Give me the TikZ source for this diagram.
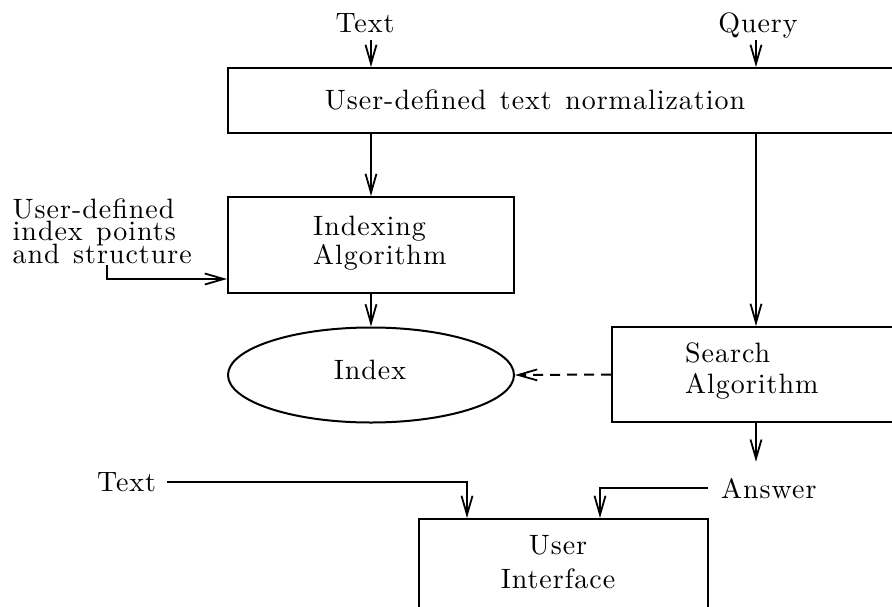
\documentclass[tikz,border=0pt]{standalone}
\usepackage{fontspec}
\setmainfont{lmroman10-regular}[Extension=.otf, LetterSpace=3.5, WordSpace=1.3]
\usetikzlibrary{arrows.meta,shapes.geometric}
\lineskiplimit=-40pt
\begin{document}
\begin{tikzpicture}[x=1pt,y=-1pt,
  every node/.style={font=\fontsize{28}{29}\selectfont, inner sep=0pt},
  box/.style={draw, line width=2pt, rectangle},
  oval/.style={draw, line width=2pt, ellipse},
  lbl/.style={inner sep=0pt},
  arr/.style={line width=2pt, -{Straight Barb[length=19pt,width=11pt,line width=1.8pt]}},
  dasharr/.style={arr, dash pattern=on 10pt off 7pt}]
\path[use as bounding box, clip] (0,0) rectangle (892,606);
\fill[white] (0,0) rectangle (892,606);

% boxes
\node[box, minimum width=672pt, minimum height=65pt] (norm) at (564,100.5) {};
\node[box, minimum width=286pt, minimum height=96pt] (idx) at (371,245) {};
\node[oval, minimum width=286pt, minimum height=95pt] (index) at (371,375) {};
\node[box, minimum width=288pt, minimum height=95pt] (search) at (756,374.5) {};
\node[box, minimum width=289pt, minimum height=96pt] (ui) at (563.5,567) {};

% texts
\node[lbl, anchor=base] (t1) at (365,32) {Text};
\node[lbl, anchor=base] (q) at (758,32) {Query};
\node[lbl, anchor=base] (normtxt) at (535,109) {User-defined text normalization};
\node[lbl, anchor=west, align=left, font=\fontsize{28}{29}\selectfont] (idxtxt) at (313,243) {Indexing\\Algorithm};
\node[lbl, anchor=base] (indextxt) at (370,379) {Index};
\node[lbl, anchor=west, align=left, font=\fontsize{28}{31}\selectfont] (searchtxt) at (685,371) {Search\\Algorithm};
\node[lbl, anchor=center, align=center, font=\fontsize{28}{34}\selectfont] (uitxt) at (558,562) {User\\Interface};
\node[lbl, anchor=west, align=left, font=\fontsize{28}{22.7}\selectfont] (lt) at (12.5,231) {User-defined\\index points\\and structure};
\node[lbl, anchor=base west] (t2) at (97,491) {Text};
\node[lbl, anchor=base west] (ans) at (721,498) {Answer};

\coordinate (lk) at (107,265);
\coordinate (t2end) at (167,482);
\coordinate (ansend) at (708,488);

% connectors
\draw[arr] (t1.base -| idx.north) ++(0,8) -- (norm.north -| idx.north);
\draw[arr] (q.base -| search.north) ++(0,8) -- (norm.north -| search.north);
\draw[arr] (norm.south -| idx.north) -- (idx.north);
\draw[arr] (norm.south -| search.north) -- (search.north);
\draw[arr] (lk) |- ([yshift=-34pt]idx.west);
\draw[arr] (idx.south) -- (index.north);
\draw[dasharr] (search.west) -- (index.east);
\draw[arr] (search.south) -- ([yshift=16pt]search.south |- ans.north);
\draw[arr] (ansend) -| ([xshift=36.5pt]ui.north);
\draw[arr] (t2end) -| ([xshift=-96.5pt]ui.north);
\end{tikzpicture}
\end{document}
